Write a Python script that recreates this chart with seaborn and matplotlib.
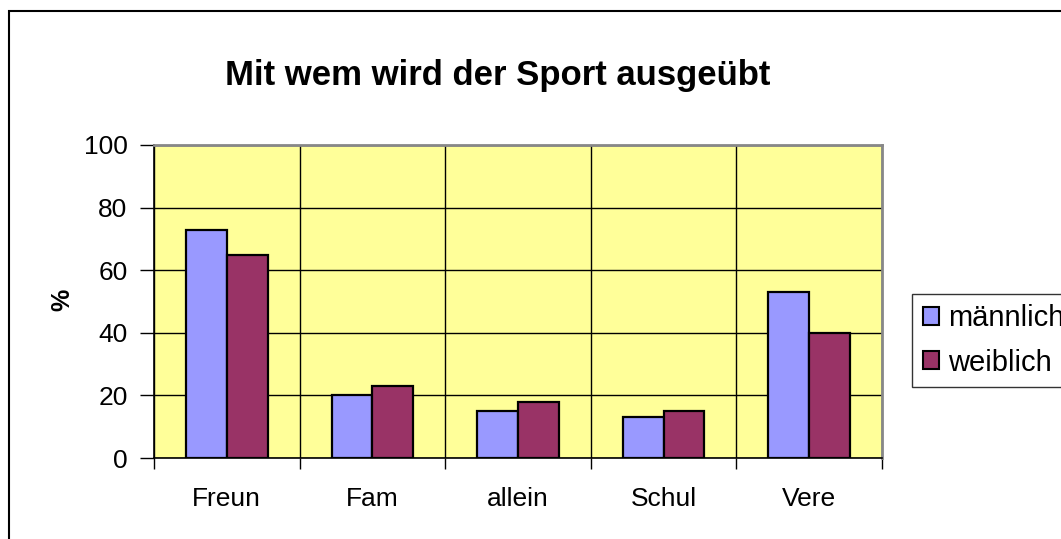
import numpy as np
import pandas as pd
import matplotlib
matplotlib.use("Agg")
import matplotlib.pyplot as plt
import matplotlib.patches as mpatches
import seaborn as sns

categories = ["Freun", "Fam", "allein", "Schul", "Vere"]
maennlich = [73, 20, 15, 13, 53]
weiblich = [65, 23, 18, 15, 40]
groups = ["männlich", "weiblich"]
colors = ["#9999FF", "#993366"]

df = pd.DataFrame({
    "Kategorie": categories * 2,
    "Wert": maennlich + weiblich,
    "Geschlecht": [groups[0]] * 5 + [groups[1]] * 5,
})

sns.set_style("white")
plt.rcParams["font.family"] = ["Liberation Sans", "DejaVu Sans"]
plt.rcParams["text.color"] = "black"
plt.rcParams["axes.labelcolor"] = "black"
plt.rcParams["xtick.color"] = "black"
plt.rcParams["ytick.color"] = "black"

fig = plt.figure(figsize=(10.61, 5.39), dpi=100)
ax = fig.add_axes([154 / 1061, 1 - 458 / 539, 728 / 1061, 313 / 539])
ax.set_facecolor("#FFFF99")

sns.barplot(data=df, x="Kategorie", y="Wert", hue="Geschlecht",
            palette=colors, width=0.56, edgecolor="black", linewidth=1.6,
            saturation=1, ax=ax, legend=False, zorder=3)

ax.set_ylim(0, 100)
ax.set_xlim(-0.5, 4.5)
ax.set_yticks(np.arange(0, 101, 20))
ax.set_xticks(np.arange(5))
ax.set_xticklabels(categories)
ax.set_xticks(np.arange(-0.5, 5, 1), minor=True)
ax.grid(True, which="major", axis="y", color="black", linewidth=1, zorder=1)
ax.grid(True, which="minor", axis="x", color="black", linewidth=1, zorder=1)
ax.set_axisbelow(True)
ax.tick_params(axis="x", which="major", length=0, pad=21, labelsize=19)
ax.tick_params(axis="x", which="minor", length=8, width=1, direction="out",
               color="black", bottom=True)
ax.tick_params(axis="y", length=10, width=1, direction="out", left=True,
               pad=9, labelsize=19, color="black")
for s in ["left", "bottom"]:
    ax.spines[s].set_color("black")
    ax.spines[s].set_linewidth(1.2)
for s in ["top", "right"]:
    ax.spines[s].set_color("#888888")
    ax.spines[s].set_linewidth(2)
ax.set_xlabel("")
ax.set_ylabel("")

fig.text(62 / 1061, 1 - 300 / 539, "%", rotation=90, ha="center", va="center",
         fontsize=18, fontweight="bold")
fig.text(498 / 1061, 1 - 75 / 539, "Mit wem wird der Sport ausgeübt",
         ha="center", va="center", fontsize=25, fontweight="bold")

handles = [mpatches.Patch(facecolor=c, edgecolor="black", linewidth=1.5) for c in colors]
leg = fig.legend(handles, groups, loc="upper left",
                 bbox_to_anchor=(912 / 1061, 1 - 294 / 539),
                 fontsize=21, frameon=True, fancybox=False,
                 handlelength=0.58, handleheight=0.58, handletextpad=0.3,
                 labelspacing=0.55, borderpad=0.36, borderaxespad=0)
leg.get_frame().set_edgecolor("black")
leg.get_frame().set_linewidth(1)

border = mpatches.Rectangle((9 / 1061, -0.1), 1.2, 1 - 11 / 539 + 0.1,
                            transform=fig.transFigure, fill=False,
                            edgecolor="black", linewidth=1.5, clip_on=False)
fig.patches.append(border)

fig.savefig("out.png", dpi=100)
